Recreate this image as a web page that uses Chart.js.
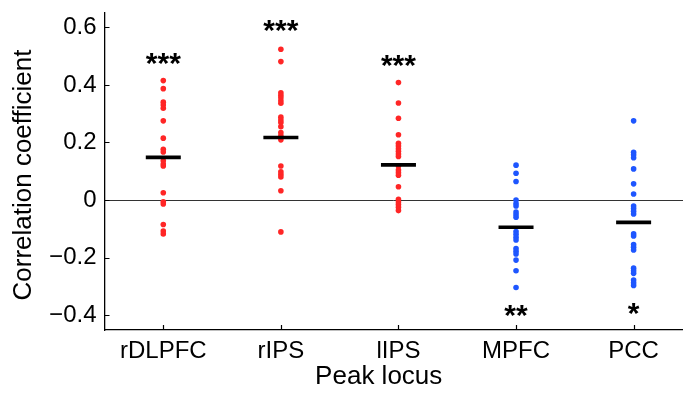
<!DOCTYPE html>
<html>
<head>
<meta charset="utf-8">
<script src="https://cdn.jsdelivr.net/npm/chart.js@4.4.1/dist/chart.umd.min.js"></script>
<style>
    html, body { margin: 0; padding: 0; background: #fff; }
    #wrap { width: 683px; height: 394px; position: relative; }
</style>
</head>
<body>
<div id="wrap"><canvas id="chart"></canvas></div>
<script>
// Categories and per-subject correlation values
const categories = ['rDLPFC', 'rIPS', 'lIPS', 'MPFC', 'PCC'];

const rdlpfcVals = [0.415, 0.387, 0.340, 0.330, 0.319, 0.275, 0.215, 0.176, 0.167, 0.136, 0.125, 0.118, 0.025, -0.006, -0.014, -0.085, -0.108, -0.118];
const ripsVals   = [0.524, 0.481, 0.373, 0.364, 0.355, 0.345, 0.336, 0.288, 0.278, 0.269, 0.255, 0.234, 0.223, 0.209, 0.118, 0.098, 0.089, 0.080, 0.032, -0.111];
const lipsVals   = [0.408, 0.337, 0.284, 0.227, 0.197, 0.188, 0.178, 0.169, 0.160, 0.151, 0.118, 0.104, 0.095, 0.086, 0.046, 0.002, -0.007, -0.016, -0.025, -0.037];
const mpfcVals   = [0.121, 0.093, 0.064, 0.000, -0.012, -0.021, -0.042, -0.051, -0.060, -0.110, -0.119, -0.130, -0.139, -0.169, -0.178, -0.188, -0.209, -0.246, -0.304];
const pccVals    = [0.275, 0.166, 0.157, 0.147, 0.108, 0.056, 0.021, -0.021, -0.030, -0.039, -0.049, -0.118, -0.125, -0.155, -0.164, -0.174, -0.237, -0.246, -0.255, -0.278, -0.288, -0.297];

const groupMeans = [0.148, 0.217, 0.122, -0.095, -0.078];

// significance markers and where they sit (in correlation units)
const starLabels = ['***', '***', '***', '**', '*'];
const starY      = [0.490, 0.602, 0.480, -0.386, -0.379];

const yTicks = [-0.4, -0.2, 0, 0.2, 0.4, 0.6];

const RED = 'rgb(255, 38, 38)';
const BLUE = 'rgb(30, 86, 255)';
const pointColors = [RED, RED, RED, BLUE, BLUE];

const FONT = "'Liberation Sans', Arial, Helvetica, sans-serif";
const STAR_SIZE = 30;

const allVals = [rdlpfcVals, ripsVals, lipsVals, mpfcVals, pccVals];

const dotSets = allVals.map((vals, i) => ({
    type: 'scatter',
    label: categories[i],
    data: vals.map(v => ({ x: i, y: v })),
    backgroundColor: pointColors[i],
    borderWidth: 0,
    pointRadius: 2.8,
    order: 2,
}));

const meanSet = {
    type: 'scatter',
    label: 'mean',
    data: groupMeans.map((m, i) => ({ x: i, y: m })),
    pointStyle: 'line',
    pointRadius: 17.5,
    borderColor: '#000',
    borderWidth: 3.6,
    order: 1,
};

// inward ticks, zero line, significance stars and axis titles
const decorations = {
    id: 'decorations',
    beforeDatasetsDraw(chart) {
        const { ctx, chartArea: a, scales: { y } } = chart;
        ctx.save();
        const y0 = Math.round(y.getPixelForValue(0)) + 0.5;
        ctx.strokeStyle = '#333';
        ctx.lineWidth = 1;
        ctx.beginPath();
        ctx.moveTo(a.left, y0);
        ctx.lineTo(a.right, y0);
        ctx.stroke();
        ctx.restore();
    },
    afterDraw(chart) {
        const { ctx, chartArea: a, scales: { x, y } } = chart;
        ctx.save();
        ctx.strokeStyle = '#000';
        ctx.lineWidth = 1.2;
        ctx.beginPath();
        yTicks.forEach(t => {
            const py = Math.round(y.getPixelForValue(t)) + 0.5;
            ctx.moveTo(a.left, py);
            ctx.lineTo(a.left + 5, py);
        });
        categories.forEach((_, i) => {
            const px = Math.round(x.getPixelForValue(i)) + 0.5;
            ctx.moveTo(px, a.bottom);
            ctx.lineTo(px, a.bottom - 5);
        });
        ctx.stroke();

        // stars
        ctx.fillStyle = '#000';
        ctx.font = 'bold ' + STAR_SIZE + 'px ' + FONT;
        ctx.textAlign = 'center';
        ctx.textBaseline = 'alphabetic';
        starLabels.forEach((s, i) => {
            ctx.fillText(s, x.getPixelForValue(i), y.getPixelForValue(starY[i]) + STAR_SIZE * 0.45);
        });

        // axis titles
        ctx.font = '26px ' + FONT;
        ctx.textBaseline = 'middle';
        ctx.fillText('Peak locus', a.left + (a.right - a.left) * 0.474, 377);
        ctx.translate(24, 175);
        ctx.rotate(-Math.PI / 2);
        ctx.fillText('Correlation coefficient', 0, 0);
        ctx.restore();
    }
};

new Chart(document.getElementById('chart'), {
    data: { datasets: [meanSet, ...dotSets] },
    options: {
        responsive: true,
        maintainAspectRatio: false,
        animation: false,
        layout: { autoPadding: false, padding: { top: 13, right: 0, left: 0, bottom: 0 } },
        plugins: {
            legend: { display: false },
            tooltip: { enabled: false },
        },
        scales: {
            x: {
                type: 'linear',
                min: -0.5,
                max: 4.42,
                afterBuildTicks: (s) => { s.ticks = categories.map((_, i) => ({ value: i })); },
                afterFit: (s) => {
                    s.height = 64;
                    s.paddingLeft = 0;
                    s.paddingRight = 0;
                },
                grid: { display: false, drawTicks: false },
                border: { display: true, color: '#000', width: 1.3 },
                ticks: {
                    color: '#000',
                    padding: 7,
                    maxRotation: 0,
                    autoSkip: false,
                    font: { family: FONT, size: 24 },
                    callback: (v) => categories[v] ?? '',
                },
            },
            y: {
                min: -0.452,
                max: 0.65,
                afterBuildTicks: (s) => { s.ticks = yTicks.map(v => ({ value: v })); },
                afterFit: (s) => {
                    s.width = 104.5;
                    s.paddingTop = 0;
                    s.paddingBottom = 0;
                },
                grid: { display: false, drawTicks: false },
                border: { display: true, color: '#000', width: 1.3 },
                ticks: {
                    color: '#000',
                    padding: 8,
                    font: { family: FONT, size: 24 },
                    callback: (v) => v === 0 ? '0' : (v < 0 ? '\u2212' + Math.abs(v).toFixed(1) : v.toFixed(1)),
                },
            },
        },
    },
    plugins: [decorations],
});
</script>
</body>
</html>
